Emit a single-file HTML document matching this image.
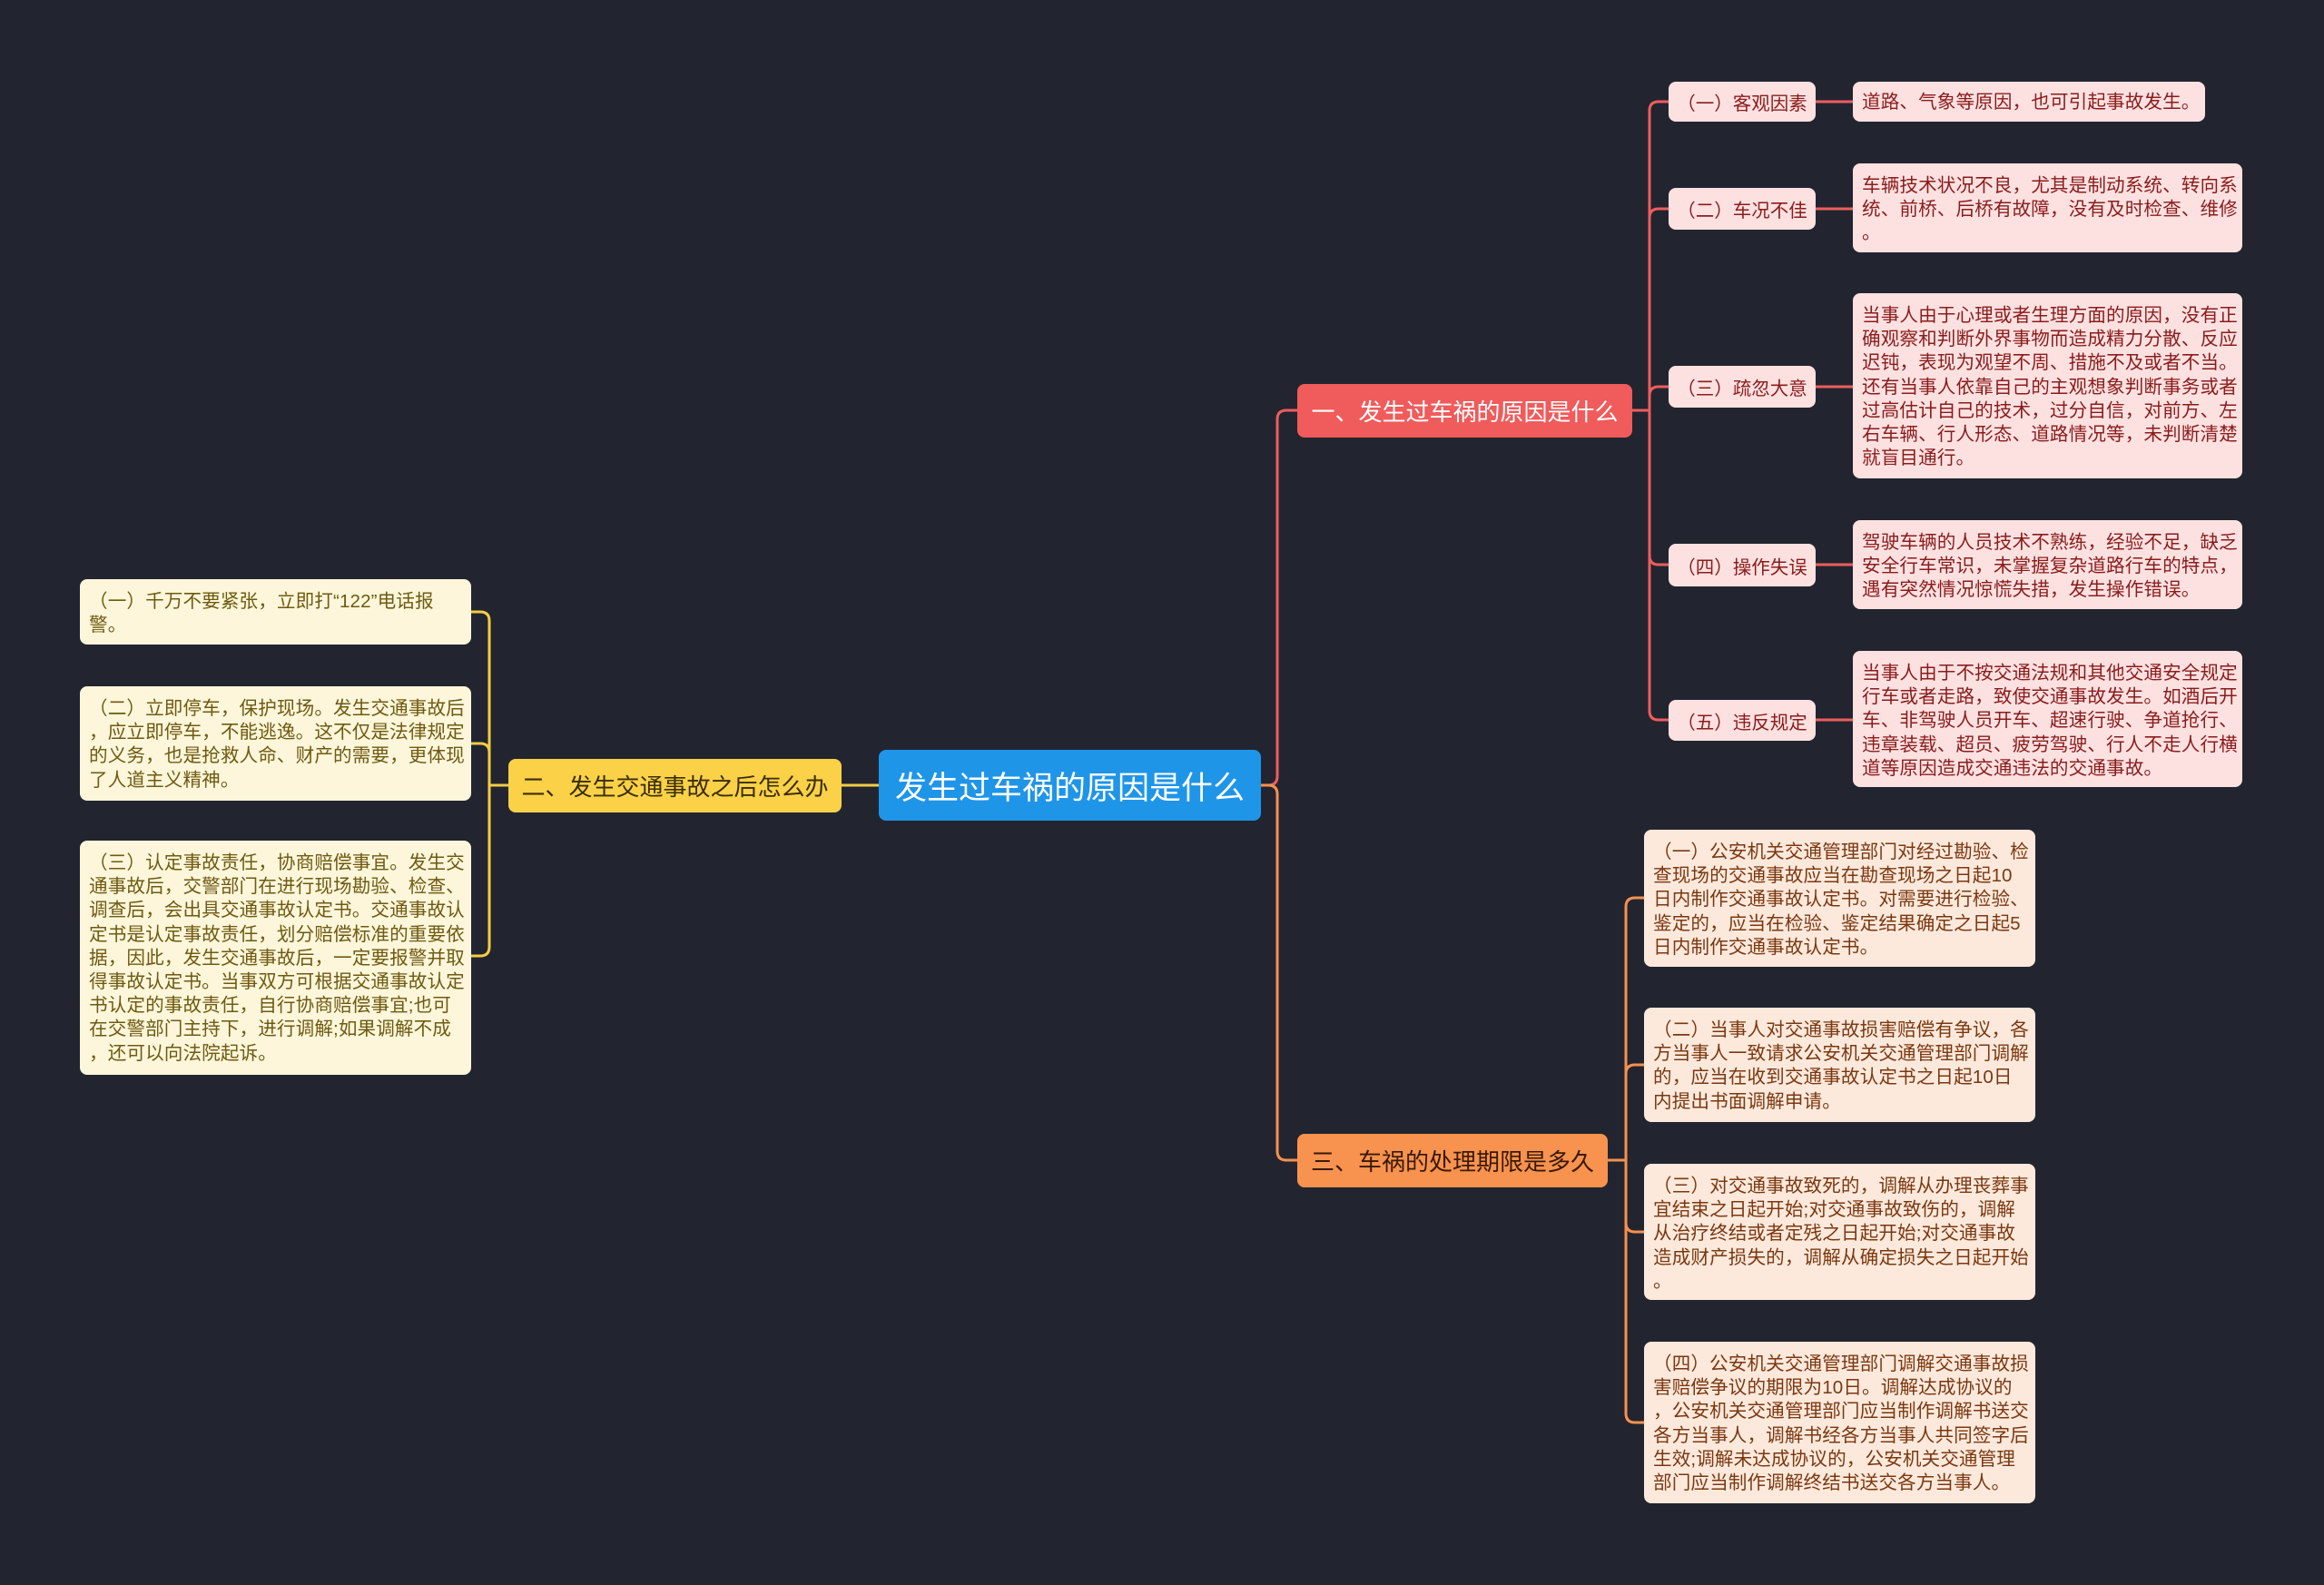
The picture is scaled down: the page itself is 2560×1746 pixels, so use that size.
<!DOCTYPE html>
<html><head><meta charset="utf-8">
<style>
html,body{margin:0;padding:0;}
body{width:2560px;height:1746px;background:#22252f;position:relative;overflow:hidden;font-family:"Liberation Sans","Noto Sans CJK SC",sans-serif;}
.n{position:absolute;box-sizing:border-box;border-radius:8px;white-space:nowrap;}
.c{background:#1f95e8;color:#fff;font-size:35px;display:flex;align-items:center;justify-content:center;}
.b{font-size:26px;display:flex;align-items:center;justify-content:center;}
.s{font-size:20.5px;background:#fde1e1;color:#8a1c1c;display:flex;align-items:center;justify-content:center;}
.t{font-size:20.6px;letter-spacing:0.1px;line-height:26.2px;padding:12px 10px 8px 10px;}
.r{background:#fde1e1;color:#8a1c1c;}
.y{background:#fdf6da;color:#6e5a12;}
.o{background:#fde9dc;color:#7a3810;}
</style></head><body>
<svg width="2560" height="1746" style="position:absolute;left:0;top:0" fill="none" stroke-width="3">
<g stroke="#ee5d5d">
<path d="M1389 865 H1397 Q1407 865 1407 855 V462 Q1407 452 1417 452 H1429"/>
<path d="M1798 452 H1817"/>
<path d="M1817 122 Q1817 112 1827 112 H1838 M1817 122 V783 Q1817 793 1827 793 H1838"/>
<path d="M1817 240 Q1817 230 1827 230 H1838"/>
<path d="M1817 436 Q1817 426 1827 426 H1838"/>
<path d="M1817 612 Q1817 622 1827 622 H1838"/>
<path d="M2000 112 H2041 M2000 230 H2041 M2000 426 H2041 M2000 622 H2041 M2000 793 H2041"/>
</g>
<g stroke="#f5914f">
<path d="M1389 865 H1397 Q1407 865 1407 875 V1268 Q1407 1278 1417 1278 H1429"/>
<path d="M1771 1278 H1791"/>
<path d="M1791 999 Q1791 989 1801 989 H1811 M1791 999 V1557 Q1791 1567 1801 1567 H1811"/>
<path d="M1791 1183 Q1791 1173 1801 1173 H1811"/>
<path d="M1791 1347 Q1791 1357 1801 1357 H1811"/>
</g>
<g stroke="#f3cd45">
<path d="M968 865 H927"/>
<path d="M560 865 H539"/>
<path d="M539 684 Q539 674 529 674 H519 M539 684 V1043 Q539 1053 529 1053 H519"/>
<path d="M539 829 Q539 819 529 819 H519"/>
</g>
</svg>

<div class="n c" style="left:968px;top:826px;width:421px;height:78px;">发生过车祸的原因是什么</div>
<div class="n b" style="left:1429px;top:423px;width:369px;height:59px;background:#f05b5b;color:#fff;">一、发生过车祸的原因是什么</div>
<div class="n b" style="left:560px;top:836px;width:367px;height:59px;background:#fbd148;color:#3a2e05;">二、发生交通事故之后怎么办</div>
<div class="n b" style="left:1429px;top:1249px;width:342px;height:59px;background:#f8924f;color:#3a1a05;">三、车祸的处理期限是多久</div>

<div class="n s" style="left:1838px;top:90px;width:162px;height:44px;">（一）客观因素</div>
<div class="n s" style="left:1838px;top:207px;width:162px;height:46px;">（二）车况不佳</div>
<div class="n s" style="left:1838px;top:403px;width:162px;height:46px;">（三）疏忽大意</div>
<div class="n s" style="left:1838px;top:599px;width:162px;height:47px;">（四）操作失误</div>
<div class="n s" style="left:1838px;top:771px;width:162px;height:45px;">（五）违反规定</div>

<div class="n t r" style="left:2041px;top:90px;width:388px;height:44px;padding-top:10px;">道路、气象等原因，也可引起事故发生。</div>
<div class="n t r" style="left:2041px;top:180px;width:429px;height:98px;">车辆技术状况不良，尤其是制动系统、转向系<br>统、前桥、后桥有故障，没有及时检查、维修<br>。</div>
<div class="n t r" style="left:2041px;top:323px;width:429px;height:204px;">当事人由于心理或者生理方面的原因，没有正<br>确观察和判断外界事物而造成精力分散、反应<br>迟钝，表现为观望不周、措施不及或者不当。<br>还有当事人依靠自己的主观想象判断事务或者<br>过高估计自己的技术，过分自信，对前方、左<br>右车辆、行人形态、道路情况等，未判断清楚<br>就盲目通行。</div>
<div class="n t r" style="left:2041px;top:573px;width:429px;height:98px;">驾驶车辆的人员技术不熟练，经验不足，缺乏<br>安全行车常识，未掌握复杂道路行车的特点，<br>遇有突然情况惊慌失措，发生操作错误。</div>
<div class="n t r" style="left:2041px;top:717px;width:429px;height:150px;">当事人由于不按交通法规和其他交通安全规定<br>行车或者走路，致使交通事故发生。如酒后开<br>车、非驾驶人员开车、超速行驶、争道抢行、<br>违章装载、超员、疲劳驾驶、行人不走人行横<br>道等原因造成交通违法的交通事故。</div>

<div class="n t y" style="left:88px;top:638px;width:431px;height:72px;">（一）千万不要紧张，立即打“122”电话报<br>警。</div>
<div class="n t y" style="left:88px;top:756px;width:431px;height:126px;">（二）立即停车，保护现场。发生交通事故后<br>，应立即停车，不能逃逸。这不仅是法律规定<br>的义务，也是抢救人命、财产的需要，更体现<br>了人道主义精神。</div>
<div class="n t y" style="left:88px;top:926px;width:431px;height:258px;">（三）认定事故责任，协商赔偿事宜。发生交<br>通事故后，交警部门在进行现场勘验、检查、<br>调查后，会出具交通事故认定书。交通事故认<br>定书是认定事故责任，划分赔偿标准的重要依<br>据，因此，发生交通事故后，一定要报警并取<br>得事故认定书。当事双方可根据交通事故认定<br>书认定的事故责任，自行协商赔偿事宜;也可<br>在交警部门主持下，进行调解;如果调解不成<br>，还可以向法院起诉。</div>

<div class="n t o" style="left:1811px;top:914px;width:431px;height:151px;">（一）公安机关交通管理部门对经过勘验、检<br>查现场的交通事故应当在勘查现场之日起10<br>日内制作交通事故认定书。对需要进行检验、<br>鉴定的，应当在检验、鉴定结果确定之日起5<br>日内制作交通事故认定书。</div>
<div class="n t o" style="left:1811px;top:1110px;width:431px;height:126px;">（二）当事人对交通事故损害赔偿有争议，各<br>方当事人一致请求公安机关交通管理部门调解<br>的，应当在收到交通事故认定书之日起10日<br>内提出书面调解申请。</div>
<div class="n t o" style="left:1811px;top:1282px;width:431px;height:150px;">（三）对交通事故致死的，调解从办理丧葬事<br>宜结束之日起开始;对交通事故致伤的，调解<br>从治疗终结或者定残之日起开始;对交通事故<br>造成财产损失的，调解从确定损失之日起开始<br>。</div>
<div class="n t o" style="left:1811px;top:1478px;width:431px;height:178px;">（四）公安机关交通管理部门调解交通事故损<br>害赔偿争议的期限为10日。调解达成协议的<br>，公安机关交通管理部门应当制作调解书送交<br>各方当事人，调解书经各方当事人共同签字后<br>生效;调解未达成协议的，公安机关交通管理<br>部门应当制作调解终结书送交各方当事人。</div>
</body></html>
